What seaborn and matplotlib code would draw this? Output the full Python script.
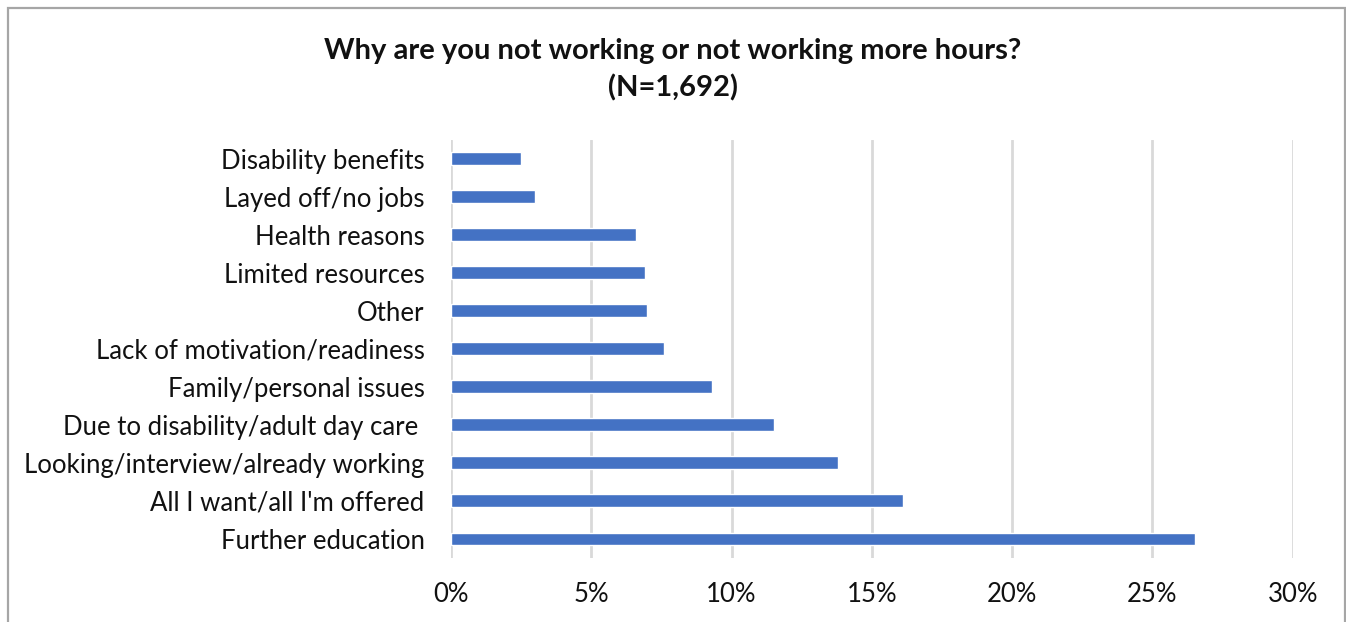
import matplotlib
matplotlib.use("Agg")
import matplotlib.pyplot as plt
from matplotlib.patches import Rectangle
from matplotlib.ticker import PercentFormatter
import seaborn as sns
import pandas as pd

# Survey responses (share of respondents), top to bottom
reasons = [
    "Disability benefits",
    "Layed off/no jobs",
    "Health reasons",
    "Limited resources",
    "Other",
    "Lack of motivation/readiness",
    "Family/personal issues",
    "Due to disability/adult day care ",
    "Looking/interview/already working",
    "All I want/all I'm offered",
    "Further education",
]
shares = [0.025, 0.030, 0.066, 0.069, 0.070, 0.076, 0.093, 0.115, 0.138, 0.161, 0.265]
x_ticks = [0.0, 0.05, 0.10, 0.15, 0.20, 0.25, 0.30]

title_lines = ["Why are you not working or not working more hours?", "(N=1,692)"]

BAR_COLOR = "#4472C4"
GRID_COLOR = "#D9D9D9"
TEXT_COLOR = "#111111"
FONT = ["Lato", "DejaVu Sans"]

sns.set_theme(style="white")
plt.rcParams["font.family"] = FONT

df = pd.DataFrame({"reason": reasons, "share": shares})

W, H = 1346, 622
fig = plt.figure(figsize=(W / 100, H / 100), dpi=100)
fig.patch.set_facecolor("white")

left, right, top, bottom = 451, 1292.7, 139.7, 558
ax = fig.add_axes([left / W, 1 - bottom / H, (right - left) / W, (bottom - top) / H])

sns.barplot(data=df, x="share", y="reason", orient="h", color=BAR_COLOR,
            width=0.34, saturation=1, ax=ax, zorder=3)

ax.set_xlim(0, 0.30)
ax.set_ylim(len(reasons) - 0.5, -0.5)
ax.set_xticks(x_ticks)
ax.xaxis.set_major_formatter(PercentFormatter(1.0, decimals=0))
ax.grid(axis="x", color=GRID_COLOR, linewidth=2, zorder=0)
ax.grid(axis="y", visible=False)
for s in ax.spines.values():
    s.set_visible(False)
ax.set_xlabel("")
ax.set_ylabel("")
ax.tick_params(axis="x", length=0, pad=17, labelsize=18.5, labelcolor=TEXT_COLOR)
ax.tick_params(axis="y", length=0, pad=19, labelsize=18.5, labelcolor=TEXT_COLOR)

# Title, centred on the figure
fig.text(0.5, 1 - 51 / H, title_lines[0], ha="center", va="center",
         fontsize=21, fontweight="bold", color=TEXT_COLOR)
fig.text(0.5, 1 - 88 / H, title_lines[1], ha="center", va="center",
         fontsize=21, fontweight="bold", color=TEXT_COLOR)

# Outer chart frame
fig.patches.append(Rectangle((7.5 / W, -0.05), (1344.5 - 7.5) / W, 1.05 - 8 / H,
                             transform=fig.transFigure, fill=False,
                             edgecolor="#A6A6A6", linewidth=1.6))

fig.savefig("out.png", dpi=100)
